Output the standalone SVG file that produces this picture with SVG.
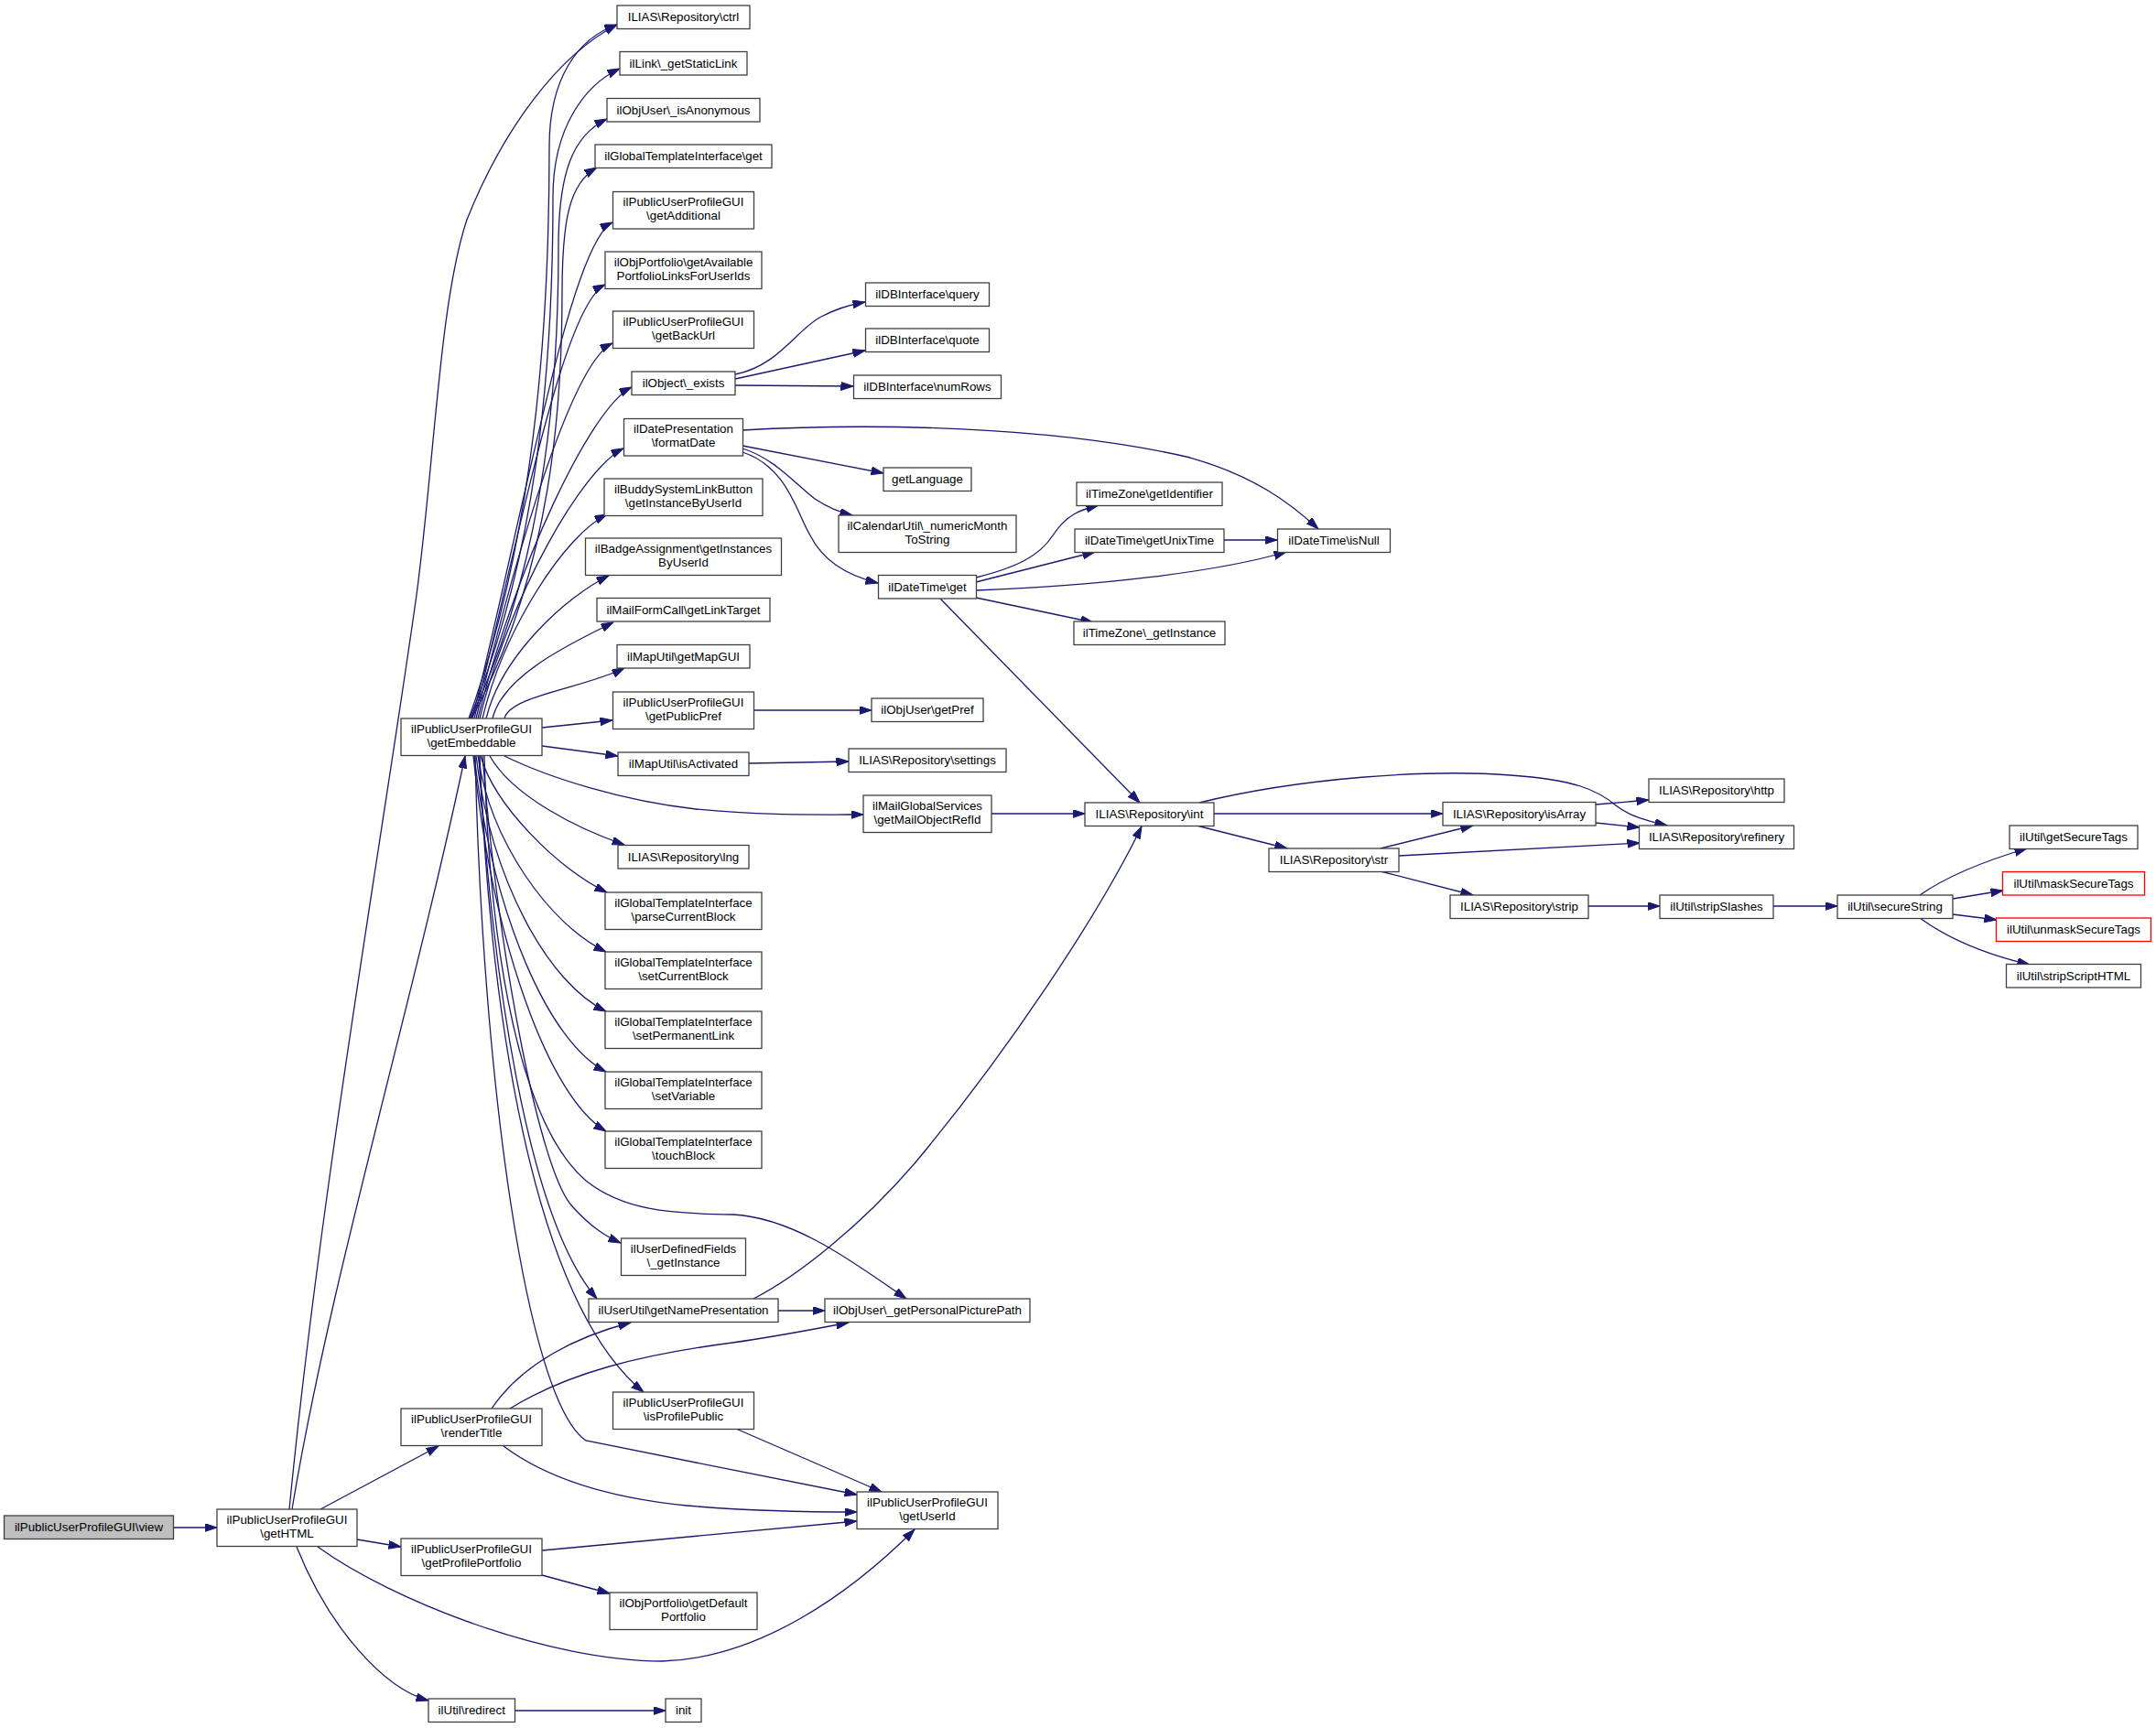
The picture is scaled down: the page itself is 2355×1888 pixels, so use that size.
<svg xmlns="http://www.w3.org/2000/svg" width="2355" height="1888" viewBox="0 0 2355 1888">
<style>
text{font-family:"Liberation Sans",Arial,sans-serif;font-size:13.33px;fill:#000;text-anchor:middle}
.n rect{fill:#fff;stroke:#404040;stroke-width:1.3}
.r rect{fill:#fff;stroke:#ff0000;stroke-width:1.3}
.g rect{fill:#bfbfbf;stroke:#404040;stroke-width:1.3}
#edges path{fill:none;stroke:#191970;stroke-width:1.3;marker-end:url(#ah)}
</style>
<defs>
<marker id="ah" markerUnits="userSpaceOnUse" markerWidth="14" markerHeight="10" refX="13.5" refY="4.5" orient="auto">
<path d="M0,0 L13.5,4.5 L0,9 Z" fill="#191970" stroke="#191970" stroke-width="1"/>
</marker>
</defs>
<rect width="2355" height="1888" fill="#fff"/>
<g id="edges">
<path d="M190,1669 L237,1669"/>
<path d="M316,1649 C350,1300 420,900 455,650 C475,500 480,330 510,240 C550,140 610,60 674,27"/>
<path d="M319,1649 C360,1400 450,1100 508,826"/>
<path d="M350,1649 L479,1580"/>
<path d="M390,1682 L438,1690"/>
<path d="M347,1690 C430,1750 600,1815 723,1815 C830,1812 930,1740 999,1671"/>
<path d="M324,1690 C360,1780 420,1845 468,1858"/>
<path d="M563,1869 L727,1869"/>
<path d="M537,1539 C570,1490 630,1460 689,1445"/>
<path d="M557,1539 C620,1500 700,1480 800,1467 C850,1460 890,1452 927,1445"/>
<path d="M550,1580 C590,1610 650,1635 750,1645 C820,1651 890,1652 936,1652"/>
<path d="M592,1694 L936,1662"/>
<path d="M592,1721 L666,1741"/>
<path d="M804,1561 L963,1630"/>
<path d="M512,785 C591,566 600,316 600,160 C600,87 630,42 674,27"/>
<path d="M513,785 C595,586 604,357 604,215 C604,138 640,92 677,75"/>
<path d="M514,785 C600,605 610,399 610,270 C610,190 625,148 663,130"/>
<path d="M515,785 C604,622 614,436 614,320 C614,240 622,200 652,183"/>
<path d="M516,785 C576,541 624,265 669,243"/>
<path d="M518,785 C570,572 616,333 661,311"/>
<path d="M520,785 C565,600 624,397 669,375"/>
<path d="M522,785 C562,622 645,445 690,423"/>
<path d="M524,785 C556,652 636,512 681,490"/>
<path d="M527,785 C551,685 618,584 663,562"/>
<path d="M531,785 C548,715 620,651 665,629"/>
<path d="M538,785 C549,738 625,702 670,680"/>
<path d="M551,785 C557,760 637,752 682,730"/>
<path d="M592,795 L669,787"/>
<path d="M592,815 L675,826"/>
<path d="M551,826 C600,850 680,875 760,884 C830,891 890,890 943,890"/>
<path d="M535,826 C560,870 630,905 682,923"/>
<path d="M525,826 C540,880 610,950 663,975"/>
<path d="M522,826 C536,920 600,1010 662,1040"/>
<path d="M520,826 C537,965 600,1075 662,1105"/>
<path d="M518,826 C538,1000 600,1140 662,1171"/>
<path d="M517,826 C538,1030 600,1200 662,1236"/>
<path d="M527,826 C545,1050 590,1280 625,1318 C645,1340 660,1350 678,1358"/>
<path d="M523,826 C537,1060 575,1330 652,1419"/>
<path d="M524,826 C535,1100 580,1420 703,1521"/>
<path d="M519,826 C527,1180 575,1530 640,1574 L936,1633"/>
<path d="M529,826 C535,1050 570,1230 640,1290 C680,1322 730,1326 800,1327 C870,1330 940,1385 990,1419"/>
<path d="M803,409 C850,400 870,360 897,346 C912,338 928,333 945,330"/>
<path d="M803,414 L945,383"/>
<path d="M803,421 L932,422"/>
<path d="M811,470 C950,462 1150,465 1300,500 C1370,520 1410,550 1440,578"/>
<path d="M811,487 L965,517"/>
<path d="M811,490 C845,500 870,530 890,545 C905,555 918,560 931,563"/>
<path d="M811,494 C860,510 870,560 885,585 C900,615 930,630 959,637"/>
<path d="M1066,631 C1110,620 1135,608 1150,585 C1165,562 1180,557 1200,552"/>
<path d="M1066,636 L1196,603"/>
<path d="M1066,645 C1200,640 1330,625 1405,603"/>
<path d="M1066,653 L1194,680"/>
<path d="M1027,654 L1245,877"/>
<path d="M1337,590 L1395,590"/>
<path d="M823,776 L952,776"/>
<path d="M818,834 L927,832"/>
<path d="M1083,889 L1185,889"/>
<path d="M823,1419 C870,1395 940,1340 1000,1270 C1100,1150 1200,1000 1247,903"/>
<path d="M850,1432 L901,1432"/>
<path d="M1310,877 C1420,850 1560,840 1650,847 C1720,852 1745,863 1765,880 C1780,892 1800,897 1821,902"/>
<path d="M1326,889 L1576,889"/>
<path d="M1307,902 L1406,927"/>
<path d="M1743,879 L1801,874"/>
<path d="M1743,899 L1791,904"/>
<path d="M1508,927 L1609,902"/>
<path d="M1528,935 L1791,921"/>
<path d="M1508,952 L1609,978"/>
<path d="M1735,990 L1813,990"/>
<path d="M1937,990 L2007,990"/>
<path d="M2097,978 C2130,955 2170,940 2214,927"/>
<path d="M2133,982 L2188,973"/>
<path d="M2133,999 L2181,1005"/>
<path d="M2097,1003 C2130,1027 2170,1043 2217,1054"/>
</g>
<g id="view" class="g"><rect x="4.5" y="1656" width="185" height="25.5"/><text x="97" y="1673.3">ilPublicUserProfileGUI\view</text></g>
<g id="getHTML" class="n"><rect x="237" y="1649" width="153" height="40.5"/><text x="313.5" y="1664.5">ilPublicUserProfileGUI</text><text x="313.5" y="1679.5">\getHTML</text></g>
<g id="getEmbeddable" class="n"><rect x="438" y="785" width="154" height="40.5"/><text x="515" y="800.5">ilPublicUserProfileGUI</text><text x="515" y="815.5">\getEmbeddable</text></g>
<g id="renderTitle" class="n"><rect x="438" y="1539" width="154" height="40.5"/><text x="515" y="1554.5">ilPublicUserProfileGUI</text><text x="515" y="1569.5">\renderTitle</text></g>
<g id="getProfilePortfolio" class="n"><rect x="438" y="1681" width="154" height="40.5"/><text x="515" y="1696.5">ilPublicUserProfileGUI</text><text x="515" y="1711.5">\getProfilePortfolio</text></g>
<g id="redirect" class="n"><rect x="468" y="1856" width="94.5" height="25.5"/><text x="515.25" y="1873.3">ilUtil\redirect</text></g>
<g id="ctrl" class="n"><rect x="674" y="6" width="145" height="25.5"/><text x="746.5" y="23.3">ILIAS\Repository\ctrl</text></g>
<g id="getStaticLink" class="n"><rect x="677" y="56.5" width="139" height="25.5"/><text x="746.5" y="73.8">ilLink\_getStaticLink</text></g>
<g id="isAnonymous" class="n"><rect x="663" y="107.5" width="167" height="25.5"/><text x="746.5" y="124.8">ilObjUser\_isAnonymous</text></g>
<g id="gtiGet" class="n"><rect x="650" y="158" width="193" height="25.5"/><text x="746.5" y="175.3">ilGlobalTemplateInterface\get</text></g>
<g id="getAdditional" class="n"><rect x="669.5" y="209.5" width="154" height="40.5"/><text x="746.5" y="225">ilPublicUserProfileGUI</text><text x="746.5" y="240">\getAdditional</text></g>
<g id="getAvailable" class="n"><rect x="661" y="275" width="171" height="40.5"/><text x="746.5" y="290.5">ilObjPortfolio\getAvailable</text><text x="746.5" y="305.5">PortfolioLinksForUserIds</text></g>
<g id="getBackUrl" class="n"><rect x="669.5" y="340" width="154" height="40.5"/><text x="746.5" y="355.5">ilPublicUserProfileGUI</text><text x="746.5" y="370.5">\getBackUrl</text></g>
<g id="exists" class="n"><rect x="690" y="406" width="113" height="25.5"/><text x="746.5" y="423.3">ilObject\_exists</text></g>
<g id="formatDate" class="n"><rect x="681.5" y="457.5" width="130" height="40.5"/><text x="746.5" y="473">ilDatePresentation</text><text x="746.5" y="488">\formatDate</text></g>
<g id="buddy" class="n"><rect x="660" y="523" width="173" height="40.5"/><text x="746.5" y="538.5">ilBuddySystemLinkButton</text><text x="746.5" y="553.5">\getInstanceByUserId</text></g>
<g id="badge" class="n"><rect x="639.5" y="588" width="214" height="40.5"/><text x="746.5" y="603.5">ilBadgeAssignment\getInstances</text><text x="746.5" y="618.5">ByUserId</text></g>
<g id="linkTarget" class="n"><rect x="652" y="653.5" width="189" height="25.5"/><text x="746.5" y="670.8">ilMailFormCall\getLinkTarget</text></g>
<g id="mapGUI" class="n"><rect x="674" y="704.5" width="145" height="25.5"/><text x="746.5" y="721.8">ilMapUtil\getMapGUI</text></g>
<g id="publicPref" class="n"><rect x="669.5" y="756" width="154" height="40.5"/><text x="746.5" y="771.5">ilPublicUserProfileGUI</text><text x="746.5" y="786.5">\getPublicPref</text></g>
<g id="isActivated" class="n"><rect x="675" y="822" width="143" height="25.5"/><text x="746.5" y="839.3">ilMapUtil\isActivated</text></g>
<g id="lng" class="n"><rect x="675" y="923.5" width="143" height="25.5"/><text x="746.5" y="940.8">ILIAS\Repository\lng</text></g>
<g id="parseCurrentBlock" class="n"><rect x="661" y="975" width="171" height="40.5"/><text x="746.5" y="990.5">ilGlobalTemplateInterface</text><text x="746.5" y="1005.5">\parseCurrentBlock</text></g>
<g id="setCurrentBlock" class="n"><rect x="661" y="1040" width="171" height="40.5"/><text x="746.5" y="1055.5">ilGlobalTemplateInterface</text><text x="746.5" y="1070.5">\setCurrentBlock</text></g>
<g id="setPermanentLink" class="n"><rect x="661" y="1105" width="171" height="40.5"/><text x="746.5" y="1120.5">ilGlobalTemplateInterface</text><text x="746.5" y="1135.5">\setPermanentLink</text></g>
<g id="setVariable" class="n"><rect x="661" y="1171" width="171" height="40.5"/><text x="746.5" y="1186.5">ilGlobalTemplateInterface</text><text x="746.5" y="1201.5">\setVariable</text></g>
<g id="touchBlock" class="n"><rect x="661" y="1236" width="171" height="40.5"/><text x="746.5" y="1251.5">ilGlobalTemplateInterface</text><text x="746.5" y="1266.5">\touchBlock</text></g>
<g id="userDefinedFields" class="n"><rect x="678.5" y="1353" width="136" height="40.5"/><text x="746.5" y="1368.5">ilUserDefinedFields</text><text x="746.5" y="1383.5">\_getInstance</text></g>
<g id="getNamePresentation" class="n"><rect x="643" y="1419" width="207" height="25.5"/><text x="746.5" y="1436.3">ilUserUtil\getNamePresentation</text></g>
<g id="isProfilePublic" class="n"><rect x="669.5" y="1521" width="154" height="40.5"/><text x="746.5" y="1536.5">ilPublicUserProfileGUI</text><text x="746.5" y="1551.5">\isProfilePublic</text></g>
<g id="getDefaultPortfolio" class="n"><rect x="666" y="1740" width="161" height="40.5"/><text x="746.5" y="1755.5">ilObjPortfolio\getDefault</text><text x="746.5" y="1770.5">Portfolio</text></g>
<g id="init" class="n"><rect x="727" y="1856" width="39" height="25.5"/><text x="746.5" y="1873.3">init</text></g>
<g id="query" class="n"><rect x="945.5" y="309" width="135" height="25.5"/><text x="1013" y="326.3">ilDBInterface\query</text></g>
<g id="quote" class="n"><rect x="945.5" y="359" width="135" height="25.5"/><text x="1013" y="376.3">ilDBInterface\quote</text></g>
<g id="numRows" class="n"><rect x="932.5" y="410" width="161" height="25.5"/><text x="1013" y="427.3">ilDBInterface\numRows</text></g>
<g id="getLanguage" class="n"><rect x="965" y="511" width="96" height="25.5"/><text x="1013" y="528.3">getLanguage</text></g>
<g id="calendarUtil" class="n"><rect x="916" y="563" width="194" height="40.5"/><text x="1013" y="578.5">ilCalendarUtil\_numericMonth</text><text x="1013" y="593.5">ToString</text></g>
<g id="dateTimeGet" class="n"><rect x="959.5" y="628.5" width="107" height="25.5"/><text x="1013" y="645.8">ilDateTime\get</text></g>
<g id="getPref" class="n"><rect x="952" y="763" width="122" height="25.5"/><text x="1013" y="780.3">ilObjUser\getPref</text></g>
<g id="settings" class="n"><rect x="927" y="818" width="172" height="25.5"/><text x="1013" y="835.3">ILIAS\Repository\settings</text></g>
<g id="getMailObjectRefId" class="n"><rect x="943" y="869" width="140" height="40.5"/><text x="1013" y="884.5">ilMailGlobalServices</text><text x="1013" y="899.5">\getMailObjectRefId</text></g>
<g id="getPersonalPicturePath" class="n"><rect x="901" y="1419" width="224" height="25.5"/><text x="1013" y="1436.3">ilObjUser\_getPersonalPicturePath</text></g>
<g id="getUserId" class="n"><rect x="936" y="1630" width="154" height="40.5"/><text x="1013" y="1645.5">ilPublicUserProfileGUI</text><text x="1013" y="1660.5">\getUserId</text></g>
<g id="getIdentifier" class="n"><rect x="1176" y="527" width="159" height="25.5"/><text x="1255.5" y="544.3">ilTimeZone\getIdentifier</text></g>
<g id="getUnixTime" class="n"><rect x="1174" y="578" width="163" height="25.5"/><text x="1255.5" y="595.3">ilDateTime\getUnixTime</text></g>
<g id="tzGetInstance" class="n"><rect x="1173" y="679" width="165" height="25.5"/><text x="1255.5" y="696.3">ilTimeZone\_getInstance</text></g>
<g id="int" class="n"><rect x="1185" y="877" width="141" height="25.5"/><text x="1255.5" y="894.3">ILIAS\Repository\int</text></g>
<g id="isNull" class="n"><rect x="1395.5" y="578" width="123" height="25.5"/><text x="1457" y="595.3">ilDateTime\isNull</text></g>
<g id="str" class="n"><rect x="1386" y="927" width="142" height="25.5"/><text x="1457" y="944.3">ILIAS\Repository\str</text></g>
<g id="isArray" class="n"><rect x="1576" y="876.5" width="167" height="25.5"/><text x="1659.5" y="893.8">ILIAS\Repository\isArray</text></g>
<g id="strip" class="n"><rect x="1584" y="978" width="151" height="25.5"/><text x="1659.5" y="995.3">ILIAS\Repository\strip</text></g>
<g id="http" class="n"><rect x="1801" y="851" width="148" height="25.5"/><text x="1875" y="868.3">ILIAS\Repository\http</text></g>
<g id="refinery" class="n"><rect x="1790.5" y="902" width="169" height="25.5"/><text x="1875" y="919.3">ILIAS\Repository\refinery</text></g>
<g id="stripSlashes" class="n"><rect x="1813" y="978" width="124" height="25.5"/><text x="1875" y="995.3">ilUtil\stripSlashes</text></g>
<g id="secureString" class="n"><rect x="2007" y="978" width="126" height="25.5"/><text x="2070" y="995.3">ilUtil\secureString</text></g>
<g id="getSecureTags" class="n"><rect x="2195" y="902" width="140" height="25.5"/><text x="2265" y="919.3">ilUtil\getSecureTags</text></g>
<g id="maskSecureTags" class="r"><rect x="2187.5" y="952.5" width="155" height="25.5"/><text x="2265" y="969.8">ilUtil\maskSecureTags</text></g>
<g id="unmaskSecureTags" class="r"><rect x="2180.5" y="1003" width="169" height="25.5"/><text x="2265" y="1020.3">ilUtil\unmaskSecureTags</text></g>
<g id="stripScriptHTML" class="n"><rect x="2191.5" y="1053.5" width="147" height="25.5"/><text x="2265" y="1070.8">ilUtil\stripScriptHTML</text></g>
</svg>
